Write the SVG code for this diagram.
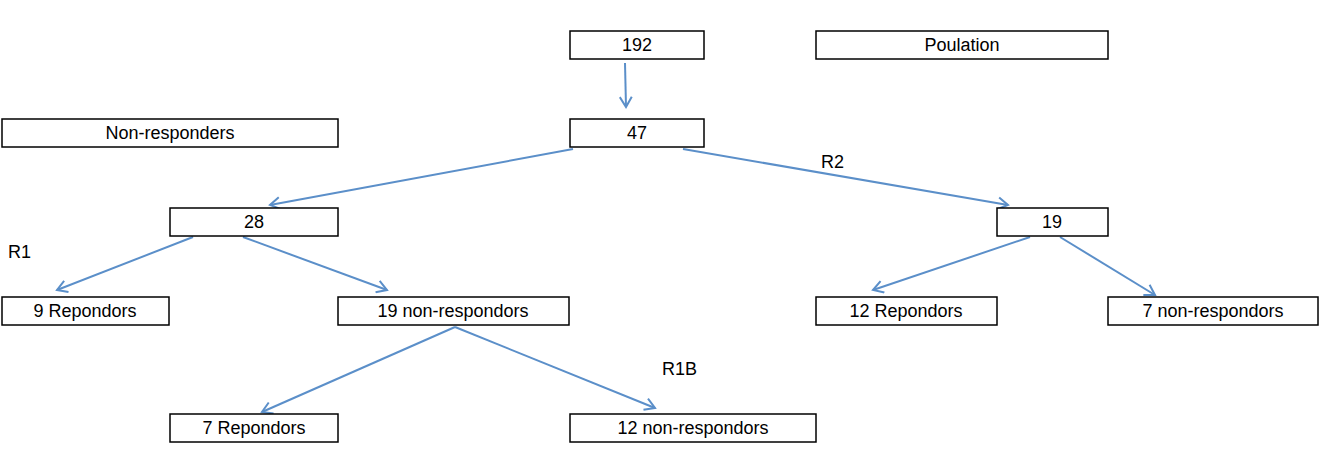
<svg xmlns="http://www.w3.org/2000/svg" width="1320" height="474" viewBox="0 0 1320 474">
<style>
rect{fill:#fff;stroke:#000;stroke-width:1.5}
text{font-family:"Liberation Sans",Arial,sans-serif;font-size:18px;fill:#000}
.c{text-anchor:middle}
line{stroke:#5b8fc9;stroke-width:2;marker-end:url(#a)}
</style>
<defs><marker id="a" markerWidth="14" markerHeight="14" refX="11" refY="7" orient="auto" markerUnits="userSpaceOnUse"><path d="M1,1 L11,7 L1,13" fill="none" stroke="#5b8fc9" stroke-width="2"/></marker></defs>
<rect width="1320" height="474" style="stroke:none"/>
<g id="connectors">
<line x1="625" y1="63" x2="626" y2="107"/>
<line x1="573" y1="149" x2="270" y2="205"/>
<line x1="683" y1="149" x2="1008" y2="205"/>
<line x1="193" y1="237" x2="57" y2="290"/>
<line x1="243" y1="237" x2="387" y2="290"/>
<line x1="1030" y1="237" x2="873" y2="290"/>
<line x1="1060" y1="237" x2="1155" y2="295"/>
<line x1="455" y1="327" x2="262" y2="412"/>
<line x1="455" y1="327" x2="655" y2="408"/>
</g>
<g id="n192"><rect x="570" y="31" width="134" height="28"/><text class="c" x="637" y="51">192</text></g>
<g id="pop"><rect x="816" y="31" width="292" height="28"/><text class="c" x="962" y="51">Poulation</text></g>
<g id="nonresp"><rect x="2" y="119" width="336" height="28"/><text class="c" x="170" y="139">Non-responders</text></g>
<g id="n47"><rect x="570" y="119" width="134" height="28"/><text class="c" x="637" y="139">47</text></g>
<g id="n28"><rect x="170" y="208" width="168" height="28"/><text class="c" x="254" y="228">28</text></g>
<g id="n19"><rect x="997" y="208" width="111" height="28"/><text class="c" x="1052" y="228">19</text></g>
<g id="r9"><rect x="2" y="297" width="167" height="28"/><text class="c" x="85" y="317">9 Repondors</text></g>
<g id="nr19"><rect x="338" y="297" width="231" height="28"/><text class="c" x="453" y="317">19 non-respondors</text></g>
<g id="r12"><rect x="816" y="297" width="181" height="28"/><text class="c" x="906" y="317">12 Repondors</text></g>
<g id="nr7"><rect x="1108" y="297" width="210" height="28"/><text class="c" x="1213" y="317">7 non-respondors</text></g>
<g id="r7"><rect x="170" y="414" width="168" height="28"/><text class="c" x="254" y="434">7 Repondors</text></g>
<g id="nr12"><rect x="570" y="414" width="246" height="28"/><text class="c" x="693" y="434">12 non-respondors</text></g>
<g id="labels">
<text x="8" y="258">R1</text>
<text x="821" y="168">R2</text>
<text x="662" y="375">R1B</text>
</g>
</svg>
